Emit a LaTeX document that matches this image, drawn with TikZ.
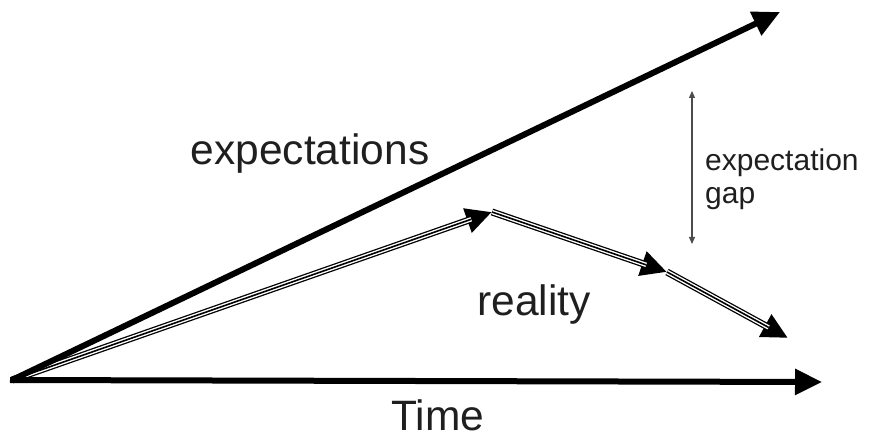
\documentclass[tikz,border=0pt]{standalone}
\usepackage{fontspec}
\setmainfont{Liberation Sans}
\usetikzlibrary{arrows.meta}
\begin{document}
\begin{tikzpicture}[x=1pt,y=-1pt,
  bigarrow/.style={line width=6pt,-{Triangle[length=27pt,width=25pt]}},
  realout/.style={line width=7pt,-{Triangle[length=26pt,width=24pt]}},
  realmid/.style={line width=4.4pt,white,shorten >=22pt},
  realin/.style={line width=1.6pt,shorten >=22pt},
  gaparrow/.style={line width=1.2pt,draw=black!70,{Triangle[length=7pt,width=6pt]}-{Triangle[length=7pt,width=6pt]}},
  lbl/.style={inner sep=0pt,anchor=base,text=black!88,font=\fontsize{42.5}{48}\selectfont},
  small/.style={inner sep=0pt,align=left,text=black!88,font=\fontsize{30}{34}\selectfont}
]
\useasboundingbox (0,0) rectangle (875,438);
\coordinate (O) at (12,380);
\coordinate (E) at (780,12);
\coordinate (T) at (822,382);
\coordinate (R1) at (492,212);
\coordinate (R2) at (667,272);
\coordinate (R3) at (788,338);
\coordinate (G1) at (692,91);
\coordinate (G2) at (692,244);
% reality triple line
\foreach \a/\b in {O/R1,R1/R2,R2/R3}{
  \draw[realout] (\a) -- (\b);
}
\foreach \a/\b in {O/R1,R1/R2,R2/R3}{
  \draw[realmid] (\a) -- (\b);
  \draw[realin] (\a) -- (\b);
}
\draw[bigarrow] (O) -- (E);
\draw[bigarrow] ([xshift=-2pt]O) -- (T);
\draw[gaparrow] (G1) -- (G2);
\node[lbl] (exp) at (310,165) {expectations};
\node[lbl] (real) at (534,316) {reality};
\node[lbl] (time) at (438,430) {Time};
\node[small,anchor=base west] (gap1) at (705,171) {expectation};
\node[small,anchor=base west] (gap2) at (705,204) {gap};
\end{tikzpicture}
\end{document}
